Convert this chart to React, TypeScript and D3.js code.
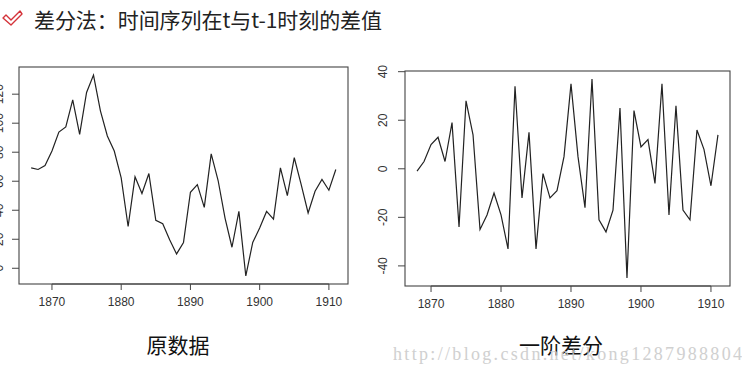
import React from "react";
import * as d3 from "d3";

// years of the original series
const years = d3.range(1867, 1912);

// original data
const original = [
  69.2, 68.1, 70.8, 80.8, 93.9, 97.4, 116.1, 92.3, 121.2, 133.2,
  108.5, 91.2, 80.8, 62.3, 28.8, 63.0, 51.5, 65.3, 33.0, 30.7,
  19.6, 9.9, 17.8, 52.4, 57.7, 42.0, 78.9, 60.5, 34.6, 14.5,
  39.2, -5.3, 17.8, 27.7, 39.2, 33.9, 69.2, 50.1, 76.2, 57.7,
  38.1, 53.1, 61.2, 53.8, 68.1,
];

// first difference (1868..1911)
const diffYears = d3.range(1868, 1912);
const diffs = [
  -1, 3, 10, 13, 3, 19, -24, 28, 14, -25, -19, -10, -19, -33, 34,
  -12, 15, -33, -2, -12, -9, 5, 35, 5, -16, 37, -21, -26, -17, 25,
  -45, 24, 9, 12, -6, 35, -19, 26, -17, -21, 16, 8, -7, 14,
];

const xTicks = [1870, 1880, 1890, 1900, 1910];
const leftTicks = [0, 20, 40, 60, 80, 100, 120];
const rightTicks = [-40, -20, 0, 20, 40];

const title = "差分法：时间序列在t与t-1时刻的差值";
const leftCaption = "原数据";
const rightCaption = "一阶差分";
const watermark = "http://blog.csdn.net/kong1287988804";

// R style 4% padding
const pad = (ext: [number, number]): [number, number] => {
  const d = (ext[1] - ext[0]) * 0.04;
  return [ext[0] - d, ext[1] + d];
};

type PanelProps = {
  xs: number[];
  ys: number[];
  box: { x0: number; x1: number; y0: number; y1: number };
  yTicks: number[];
  labelX: number;
};

const Panel = ({ xs, ys, box, yTicks, labelX }: PanelProps) => {
  const xScale = d3.scaleLinear()
    .domain(pad(d3.extent(xs) as [number, number]))
    .range([box.x0, box.x1]);
  const yScale = d3.scaleLinear()
    .domain(pad(d3.extent(ys) as [number, number]))
    .range([box.y1, box.y0]);
  const line = d3.line<number>()
    .x((_, i) => xScale(xs[i]))
    .y(d => yScale(d));

  return (
    <g>
      <rect x={box.x0} y={box.y0} width={box.x1 - box.x0} height={box.y1 - box.y0}
        fill="none" stroke="#444" strokeWidth={1.1} />
      <path d={line(ys) ?? ""} fill="none" stroke="#222" strokeWidth={1.2} />
      {/* x axis */}
      <line x1={xScale(xTicks[0])} x2={xScale(xTicks[xTicks.length - 1])}
        y1={box.y1} y2={box.y1} stroke="#444" />
      {xTicks.map(t => (
        <g key={t}>
          <line x1={xScale(t)} x2={xScale(t)} y1={box.y1} y2={box.y1 + 6} stroke="#444" />
          <text x={xScale(t)} y={box.y1 + 22} textAnchor="middle" fontSize={12}
            fontFamily="Liberation Sans, Arial, sans-serif" fill="#333">{t}</text>
        </g>
      ))}
      {/* y axis */}
      {yTicks.map(t => (
        <g key={t}>
          <line x1={box.x0 - 7} x2={box.x0} y1={yScale(t)} y2={yScale(t)} stroke="#444" />
          <text transform={`translate(${labelX},${yScale(t)}) rotate(-90)`} textAnchor="middle"
            dy="0.35em" fontSize={12} fontFamily="Liberation Sans, Arial, sans-serif"
            fill="#333">{t}</text>
        </g>
      ))}
    </g>
  );
};

const App = () => {
  return (
    <svg width={754} height={374}
      style={{ position: "absolute", left: 0, top: 0, background: "#fff" }}>
      <rect width={754} height={374} fill="#fff" />
      {/* check mark */}
      <path d="M3,18 L6,15 L11,20 L20,11 L22,14 L11,25 Z" fill="none" stroke="#d4333a"
        strokeWidth={1.4} strokeLinejoin="round" />
      <text x={34} y={28} fontSize={21} fontFamily="Noto Sans CJK SC, sans-serif"
        fill="#222" textLength={348}>{title}</text>

      <Panel xs={years} ys={original}
        box={{ x0: 19, x1: 348, y0: 67, y1: 284 }}
        yTicks={leftTicks} labelX={-1} />
      <Panel xs={diffYears} ys={diffs}
        box={{ x0: 405, x1: 730, y0: 71, y1: 286 }}
        yTicks={rightTicks} labelX={383} />

      <text x={178} y={353} textAnchor="middle" fontSize={21}
        fontFamily="Noto Sans CJK SC, sans-serif" fill="#111">{leftCaption}</text>
      <text x={561} y={353} textAnchor="middle" fontSize={21}
        fontFamily="Noto Sans CJK SC, sans-serif" fill="#111">{rightCaption}</text>
      <text x={393} y={360} fontSize={18} fontFamily="Liberation Serif, DejaVu Serif, serif"
        fill="#c8c8c8" opacity={0.85} textLength={349}>{watermark}</text>
    </svg>
  );
};

export default App;
